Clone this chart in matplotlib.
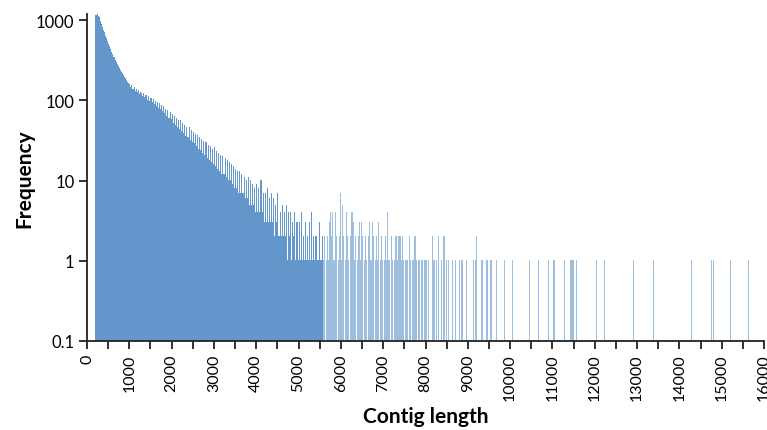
import numpy as np
import matplotlib
matplotlib.use("Agg")
import matplotlib.pyplot as plt
from matplotlib.ticker import FixedLocator, FixedFormatter, NullLocator

# ---------------- data ----------------
# Dense part of the histogram: 25 bp bins starting at 200 bp
dense_start = 200
dense_bin = 25
dense_counts = [
    1150, 1190, 1120, 1080, 980, 900, 820, 760,
    700, 640, 600, 545, 505, 470, 430, 395,
    375, 350, 322, 300, 285, 268, 252, 240,
    228, 218, 205, 196, 188, 178, 170, 163,
    158, 147, 155, 138, 146, 131, 140, 126,
    135, 119, 128, 122, 112, 125, 109, 117,
    118, 102, 112, 97, 108, 95, 104, 90,
    99, 86, 95, 81, 92, 78, 88, 74,
    85, 70, 79, 64, 76, 61, 72, 58,
    68, 52, 63, 49, 60, 46, 57, 44,
    56, 41, 52, 39, 49, 36, 47, 35,
    46, 32, 43, 30, 40, 29, 38, 27,
    37, 25, 35, 24, 33, 22, 31, 21,
    30, 19, 28, 18, 27, 17, 25, 16,
    26, 15, 23, 14, 22, 13, 21, 12,
    20, 12, 19, 11, 18, 10, 17, 10,
    16, 9, 15, 8, 14, 8, 13, 7,
    13, 7, 12, 7, 11, 6, 10, 6,
    11, 5, 10, 5, 9, 5, 8, 4,
    9, 4, 8, 4, 10, 4, 7, 3,
    7, 3, 8, 3, 6, 3, 7, 3,
    6, 2, 5, 3, 7, 2, 4, 2,
    5, 2, 4, 2, 5, 1, 4, 2,
    4, 1, 3, 2, 4, 1, 3, 1,
    3, 1, 4, 1, 2, 1, 3, 1,
    2, 1, 3, 1, 4, 1, 2, 1,
    2, 1, 1, 3, 1, 1, 2,
]

# Sparse tail: bin start (bp) and count
tail_lengths = [
    5575, 5600, 5650, 5675, 5700, 5725, 5750, 5775, 5800, 5825, 5850, 5875,
    5925, 5950, 5975, 6000, 6025, 6050, 6100, 6125, 6150, 6175, 6225, 6250,
    6275, 6300, 6325, 6375, 6400, 6425, 6450, 6475, 6500, 6550, 6575, 6600,
    6650, 6675, 6700, 6725, 6750, 6800, 6825, 6850, 6875, 6925, 6950, 6975,
    7025, 7050, 7075, 7100, 7125, 7175, 7200, 7250, 7275, 7300, 7325, 7350,
    7375, 7400, 7425, 7450, 7475, 7525, 7550, 7600, 7625, 7675, 7700, 7725,
    7750, 7775, 7825, 7850, 7900, 7925, 7975, 8000, 8050,
    8150, 8175, 8200, 8250, 8300, 8375, 8425, 8475, 8525, 8625, 8700, 8800,
    8850, 8950, 9125, 9175, 9200, 9300, 9325, 9425, 9450, 9525, 9550, 9675,
    9850, 10050, 10450, 10650, 10900, 11025, 11275, 11425, 11450, 11475,
    11550, 12025, 12225, 12900, 13375, 14275, 14750, 14800, 15200, 15625,
]
tail_counts = [
    1, 2, 1, 2, 1, 3, 4, 2, 4, 1, 4, 2,
    1, 2, 7, 1, 5, 2, 1, 4, 2, 1, 2, 4,
    3, 1, 2, 1, 2, 3, 1, 3, 2, 1, 2, 1,
    2, 3, 1, 3, 2, 1, 2, 1, 3, 1, 2, 1,
    1, 2, 1, 4, 1, 2, 1, 1, 2, 2, 1, 2,
    2, 2, 1, 2, 1, 1, 1, 2, 1, 1, 1, 2,
    2, 1, 1, 1, 1, 1, 1, 1, 1,
    2, 1, 1, 1, 2, 1, 2, 1, 1, 1, 1, 1,
    1, 1, 1, 1, 2, 1, 1, 1, 1, 1, 1, 1,
    1, 1, 1, 1, 1, 1, 1, 1, 1, 1,
    1, 1, 1, 1, 1, 1, 1, 1, 1, 1,
]

x_ticks = [0, 1000, 2000, 3000, 4000, 5000, 6000, 7000, 8000,
           9000, 10000, 11000, 12000, 13000, 14000, 15000, 16000]
y_ticks = [0.1, 1, 10, 100, 1000]
y_tick_labels = ["0.1", "1", "10", "100", "1000"]
x_label = "Contig length"
y_label = "Frequency"

# ---------------- plot ----------------
plt.rcParams['font.family'] = ['Lato', 'DejaVu Sans']
BAR = "#6396CA"

fig = plt.figure(figsize=(7.67, 4.31), dpi=100)
ax = fig.add_axes([87 / 767, 1 - 342 / 431, (764 - 87) / 767, (342 - 15) / 431])

dense_x = dense_start + dense_bin * np.arange(len(dense_counts))
ax.bar(dense_x, dense_counts, width=dense_bin, align="edge", bottom=0.01,
       color=BAR, linewidth=0)
ax.bar(tail_lengths, tail_counts, width=dense_bin, align="edge", bottom=0.01,
       color=BAR, alpha=0.62, linewidth=0)

ax.set_yscale("log")
ax.set_xlim(0, 16000)
ax.set_ylim(0.1, 1190)

ax.yaxis.set_major_locator(FixedLocator(y_ticks))
ax.yaxis.set_major_formatter(FixedFormatter(y_tick_labels))
ax.yaxis.set_minor_locator(NullLocator())
ax.xaxis.set_major_locator(FixedLocator(x_ticks))
ax.xaxis.set_minor_locator(FixedLocator([t + 500 for t in x_ticks[:-1]]))
ax.set_xticklabels([str(t) for t in x_ticks], rotation=90)

for s in ["top", "right"]:
    ax.spines[s].set_visible(False)
for s in ["left", "bottom"]:
    ax.spines[s].set_linewidth(1.3)
    ax.spines[s].set_color("#222222")

ax.tick_params(axis="both", which="both", direction="out", length=6,
               width=1.3, color="#222222")
ax.tick_params(axis="y", labelsize=12, pad=3)
ax.tick_params(axis="x", labelsize=11.5, pad=3)

ax.set_xlabel(x_label, fontsize=15, fontweight="bold", labelpad=4)
ax.set_ylabel(y_label, fontsize=15, fontweight="bold", labelpad=1)

fig.savefig("out.png", dpi=100)
